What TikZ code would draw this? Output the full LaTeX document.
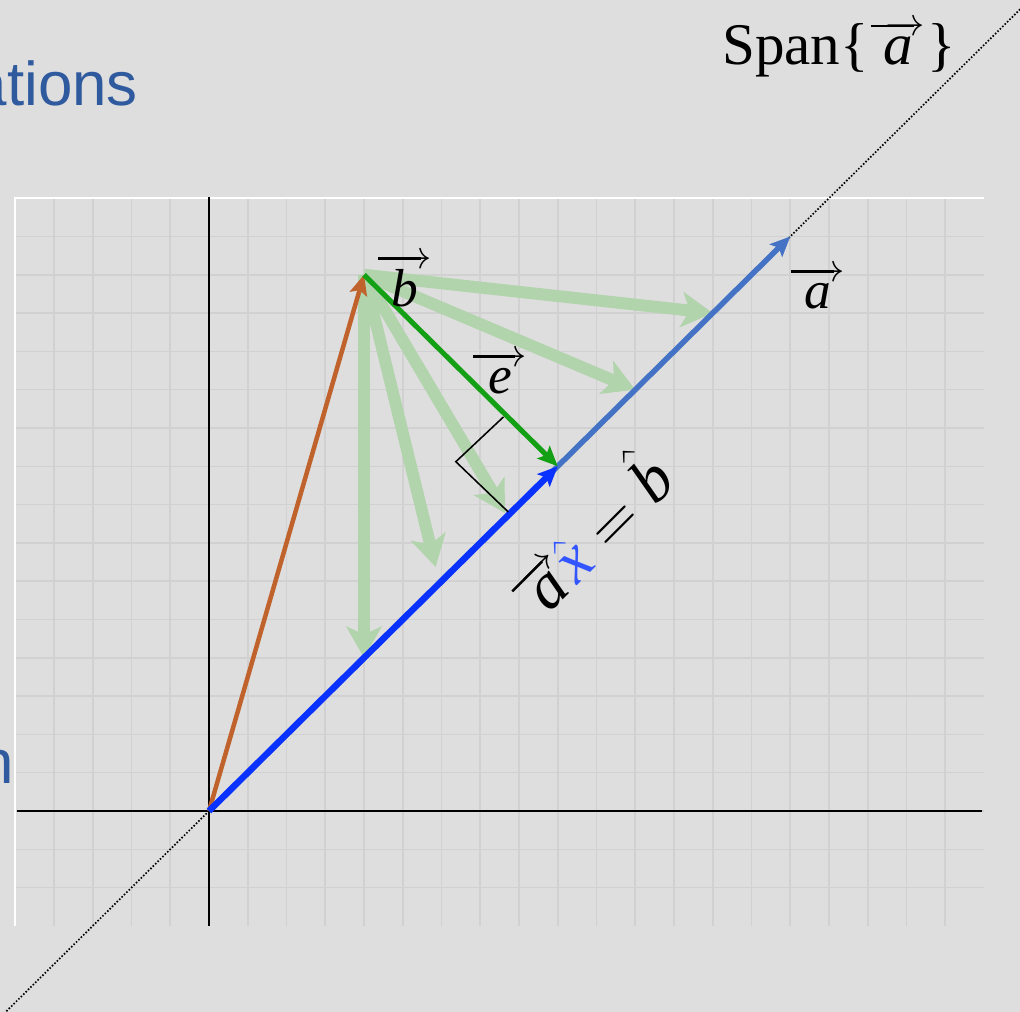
\RequirePackage{fix-cm}
\documentclass[tikz,border=0pt]{standalone}
\usepackage{fontspec}
\setmainfont{Liberation Serif}
\newfontfamily\slidefont{Liberation Sans}
\usepackage{tikz}
\usetikzlibrary{arrows.meta, calc}
\definecolor{pjBg}{HTML}{DEDEDE}
\definecolor{pjGrid}{HTML}{D1D1D1}
\definecolor{pjTitle}{HTML}{2F5A9E}
\definecolor{pjSpan}{HTML}{4472C4}
\definecolor{pjProj}{HTML}{0A32FF}
\definecolor{pjB}{HTML}{C0622B}
\definecolor{pjErr}{HTML}{14A014}
\definecolor{pjTry}{HTML}{B2D4AC}
\definecolor{pjX}{HTML}{3355FF}
\newcommand{\pjarrow}{\hbox{\vrule height 7.9pt depth -6.1pt width 30pt\kern-20pt
  {\fontsize{28}{28}\selectfont$\rightarrow$}}}
\newcommand{\pjvec}[1]{\leavevmode\vbox{\offinterlineskip
  \halign{\hfil##\hfil\cr\hbox to 0pt{\hss\pjarrow\hss}\cr
  \noalign{\kern1pt}\textit{#1}\cr}}}
\tikzset{
  gridline/.style={pjGrid, line width=1.1pt},
  edgeline/.style={white, line width=1.1pt},
  axisline/.style={black, line width=2pt},
  spanline/.style={black, line width=1.2pt, dash pattern=on 1.1pt off 1.3pt},
  vec/.style={line width=#1, -{Stealth[length=0.5cm, width=0.44cm, inset=0.1cm]}},
  tryvec/.style={pjTry, line width=8.5pt,
    -{Stealth[length=0.78cm, width=0.88cm, inset=0.2cm]}},
  rightmark/.style={black, line width=1.1pt},
  veclabel/.style={font=\fontsize{38}{40}\selectfont, inner sep=0pt},
  slidetext/.style={font=\slidefont\fontsize{44}{48}\selectfont, text=pjTitle, inner sep=0pt}
}

\begin{document}
\begin{tikzpicture}[x={(0.96875cm,0)}, y={(0,0.9575cm)}]
  \useasboundingbox (-5.394,-5.248) rectangle (20.929,21.175);
  \fill[pjBg] (-5.394,-5.248) rectangle (20.929,21.175);

  % grid
  \foreach \x in {-4,...,19}
    \draw[gridline] (\x,-3) -- (\x,16);
  \foreach \y in {-2,...,15}
    \draw[gridline] (-5,\y) -- (20,\y);
  \draw[edgeline] (-5,-3) -- (-5,16) -- (20,16);

  % axes
  \draw[axisline] (-4.95,0) -- (19.95,0);
  \draw[axisline] (0,-3) -- (0,16.03);

  \coordinate (O) at (0,0);
  \coordinate (A) at (15,15);
  \coordinate (B) at (4,14);
  \coordinate (P) at (9,9);
  \coordinate (T1) at (13,13);
  \coordinate (T2) at (11,11);
  \coordinate (T3) at (7.64,7.78);
  \coordinate (T4) at (5.85,6.37);
  \coordinate (T5) at (4,4);
  \coordinate (R1) at (7.6,10.29);
  \coordinate (R2) at (6.37,9.12);
  \coordinate (R3) at (7.72,7.81);
  \coordinate (S1) at (-5.6,-5.6);
  \coordinate (S2) at (21.3,21.3);

  % span of a
  \draw[spanline] (S1) -- (S2);

  % other choices of x
  \foreach \t in {T1,T2,T3,T4,T5}
    \draw[tryvec] (B) -- (\t);

  \draw[vec=3.2pt, pjB] (O) -- (B);
  \draw[vec=3.9pt, pjSpan] (O) -- (A);
  \draw[vec=4.6pt, pjProj] (O) -- (P);
  \draw[vec=3.6pt, pjErr] (B) -- (P);
  \draw[rightmark] (R1) -- (R2) -- (R3);

  % labels
  \node[veclabel, font=\fontsize{42}{44}\selectfont, anchor=base] (labSpan) at (16.26,19.48)
    {Span\{ \pjvec{a} \}};
  \node[veclabel, anchor=base] (labB) at (5.06,13.16) {\pjvec{b}};
  \node[veclabel, anchor=base] (labA) at (15.72,13.13) {\pjvec{a}};
  \node[veclabel, anchor=base] (labE) at (7.51,10.91) {\pjvec{e}};
  \node[veclabel, font=\fontsize{46}{48}\selectfont, anchor=base, rotate=45] (labProj) at (10.45,6.85)
    {$\pjvec{a}\mkern2mu\textcolor{pjX}{\hat{\textit{x}}} = \hat{\textit{b}}$};
  \node[slidetext, anchor=base east] (slideA) at (-1.83,18.43) {ations};
  \node[slidetext, anchor=base east] (slideB) at (-5.03,0.73) {n};
\end{tikzpicture}
\end{document}
